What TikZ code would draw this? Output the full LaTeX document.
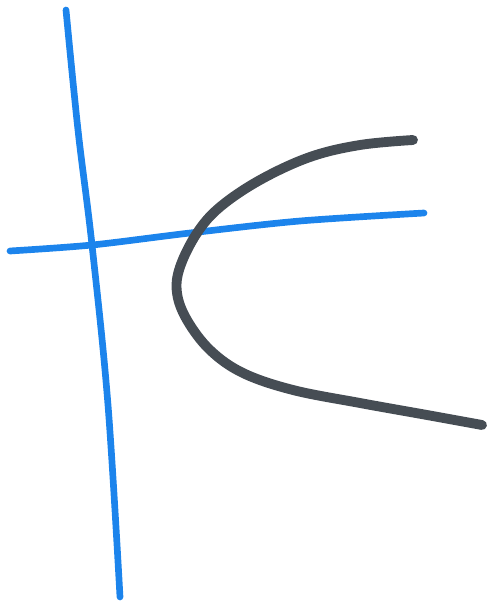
\documentclass[tikz,border=0pt]{standalone}
\definecolor{penblue}{RGB}{28,132,236}
\definecolor{pengray}{RGB}{70,77,84}
\begin{document}
\begin{tikzpicture}[x=0.02cm,y=-0.02cm,
  blueline/.style={draw=penblue,line width=3.8pt,line cap=round},
  grayline/.style={draw=pengray,line width=5.6pt,line cap=round}]
\useasboundingbox (0,0) rectangle (500,607);
\draw[blueline] plot[smooth,tension=0.6] coordinates {(66,10) (78,130) (92,245) (108,405) (120,597)};
\draw[blueline] plot[smooth,tension=0.5] coordinates {(10,251) (92,245) (190,233) (300,221) (424,213)};
\draw[grayline] plot[smooth,tension=0.6] coordinates {(413,140) (360,145) (310,157) (260,180) (220,207) (197,233) (180,267) (177,293) (187,320) (210,350) (243,373) (293,390) (360,403) (427,415) (482,425)};
\end{tikzpicture}
\end{document}
